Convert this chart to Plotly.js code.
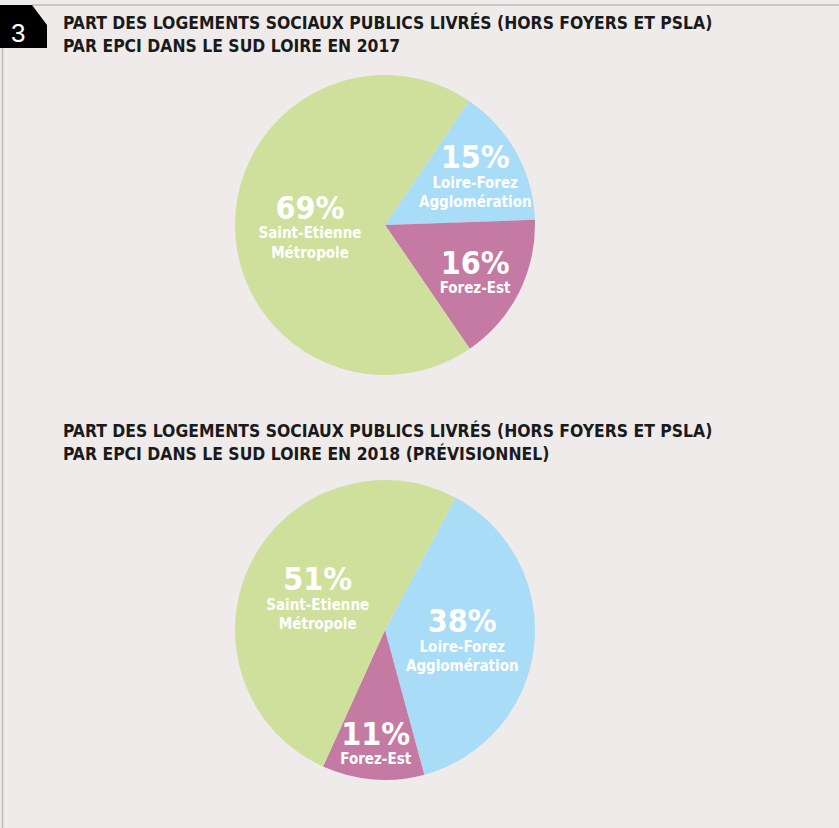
<!DOCTYPE html>
<html>
<head>
<meta charset="utf-8">
<script src="https://cdn.plot.ly/plotly-3.0.1.min.js"></script>
<style>
html,body{margin:0;padding:0;background:#efebea;}
#chart{width:839px;height:828px;}
</style>
</head>
<body>
<div id="chart"></div>
<script>
// Data
const categories = ["Loire-Forez<br>Agglomération", "Forez-Est", "Saint-Etienne<br>Métropole"];
const values2017 = [15, 16, 69];
const values2018 = [38, 11, 51];
const sliceColors = ["#a9dcf6", "#c57aa3", "#cfdf9c"];
const title2017 = "PART DES LOGEMENTS SOCIAUX PUBLICS LIVRÉS (HORS FOYERS ET PSLA)<br>PAR EPCI DANS LE SUD LOIRE EN 2017";
const title2018 = "PART DES LOGEMENTS SOCIAUX PUBLICS LIVRÉS (HORS FOYERS ET PSLA)<br>PAR EPCI DANS LE SUD LOIRE EN 2018 (PRÉVISIONNEL)";
const badgeLabel = "3";

const W = 839, H = 828;
const FONT = "Liberation Sans Narrow, DejaVu Sans Condensed, Arial Narrow, sans-serif";

function dom(cx, cy, r) {
  return {
    x: [(cx - r) / W, (cx + r) / W],
    y: [(H - cy - r) / H, (H - cy + r) / H]
  };
}

function pieTrace(vals, rot, d) {
  return {
    type: "pie",
    labels: categories,
    values: vals,
    sort: false,
    direction: "clockwise",
    rotation: rot,
    domain: d,
    marker: {colors: sliceColors, line: {width: 0}},
    texttemplate: "<span style='font-size:32px'>%{value}%</span><br>%{label}",
    textposition: "inside",
    insidetextorientation: "horizontal",
    textfont: {family: FONT, size: 15, color: "#ffffff", weight: "bold"},
    hoverinfo: "none",
    showlegend: false
  };
}

const data = [
  pieTrace(values2017, 34, dom(385, 225, 150)),
  pieTrace(values2018, 28, dom(385, 630, 150))
];

const layout = {
  width: W, height: H,
  margin: {l: 0, r: 0, t: 0, b: 0},
  paper_bgcolor: "#efebea",
  plot_bgcolor: "#efebea",
  showlegend: false,
  uniformtext: {mode: "show", minsize: 15},
  shapes: [
    {type: "line", xref: "paper", yref: "paper", x0: 32 / W, x1: 1, y0: 1 - 5 / H, y1: 1 - 5 / H, line: {color: "#bdbab9", width: 1.5}},
    {type: "line", xref: "paper", yref: "paper", x0: 2.5 / W, x1: 2.5 / W, y0: 1 - 48 / H, y1: 0, line: {color: "#bdbab9", width: 1.5}},
    {type: "path", xref: "paper", yref: "paper", fillcolor: "#000000", line: {width: 0},
     path: "M 0 " + (1 - 5 / H) + " L " + (32 / W) + " " + (1 - 5 / H) + " L " + (47 / W) + " " + (1 - 25 / H) +
           " L " + (47 / W) + " " + (1 - 48 / H) + " L 0 " + (1 - 48 / H) + " Z"}
  ],
  annotations: [
    {xref: "paper", yref: "paper", x: 18 / W, y: 1 - 33 / H, xanchor: "center", yanchor: "middle",
     text: badgeLabel, showarrow: false, font: {family: "Liberation Sans, Arial, sans-serif", size: 26, color: "#ffffff"}},
    {xref: "paper", yref: "paper", x: 61 / W, y: 1 - 10 / H, xanchor: "left", yanchor: "top", align: "left",
     text: title2017, showarrow: false, font: {family: FONT, size: 17.4, color: "#1a1a1a", weight: "bold"}},
    {xref: "paper", yref: "paper", x: 61 / W, y: 1 - 418 / H, xanchor: "left", yanchor: "top", align: "left",
     text: title2018, showarrow: false, font: {family: FONT, size: 17.4, color: "#1a1a1a", weight: "bold"}}
  ]
};

Plotly.newPlot("chart", data, layout, {displayModeBar: false, staticPlot: true});
</script>
</body>
</html>
